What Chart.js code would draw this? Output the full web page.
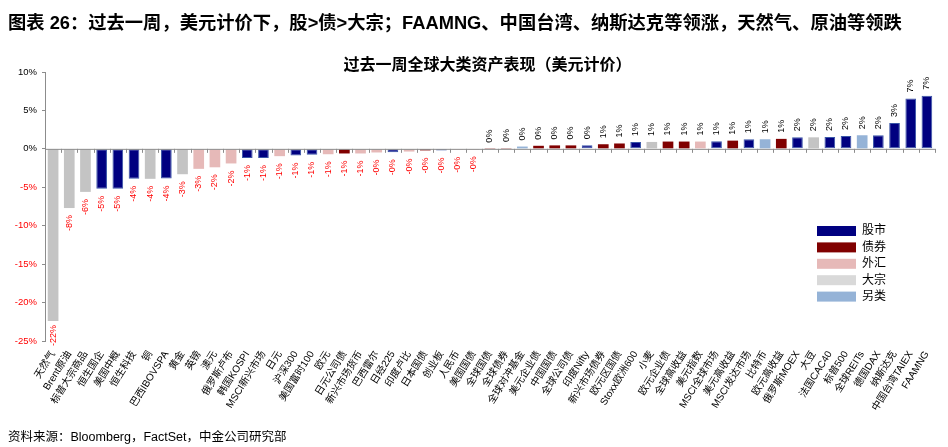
<!DOCTYPE html>
<html>
<head>
<meta charset="utf-8">
<script src="https://cdn.jsdelivr.net/npm/chart.js@4.4.1/dist/chart.umd.min.js"></script>
<style>
  html, body { margin: 0; padding: 0; background: #fff; }
  body { width: 948px; height: 447px; position: relative; overflow: hidden;
         font-family: "Liberation Sans", "Noto Sans CJK SC", sans-serif; }
  #wrap { position: absolute; left: 0; top: 0; width: 948px; height: 447px; }
  .head { position: absolute; left: 8px; top: 8px; font-size: 18.3px; font-weight: bold; color: #000; white-space: nowrap; }
  .sub { position: absolute; left: 0; width: 975px; top: 51px; text-align: center; font-size: 16px; font-weight: bold; color: #000; }
  .src { position: absolute; left: 8px; top: 426px; font-size: 12.5px; color: #000; white-space: nowrap; }
</style>
</head>
<body>
<div id="wrap"><canvas id="assetChart" width="948" height="447"></canvas></div>
<div class="head">图表 26：过去一周，美元计价下，股&gt;债&gt;大宗；FAAMNG、中国台湾、纳斯达克等领涨，天然气、原油等领跌</div>
<div class="sub">过去一周全球大类资产表现（美元计价）</div>
<div class="src">资料来源：Bloomberg，FactSet，中金公司研究部</div>
<script>
// 资产名称
const categories = [
  "天然气", "Brent原油", "标普大宗商品", "恒生国企", "美国中概", "恒生科技", "铜", "巴西IBOVSPA",
  "黄金", "英镑", "澳元", "俄罗斯卢布", "韩国KOSPI", "MSCI新兴市场", "日元", "沪深300",
  "美国富时100", "欧元", "日元公司债", "新兴市场货币", "巴西雷尔", "日经225", "印度卢比", "日本国债",
  "创业板", "人民币", "美国国债", "全球国债", "全球债券", "全球对冲基金", "美元企业债", "中国国债",
  "全球公司债", "印度Nifty", "新兴市场债券", "欧元区国债", "Stoxx欧洲600", "小麦", "欧元企业债", "全球高收益",
  "美元指数", "MSCI全球市场", "美元高收益", "MSCI发达市场", "比特币", "欧元高收益", "俄罗斯MOEX", "大豆",
  "法国CAC40", "标普500", "全球REITs", "德国DAX", "纳斯达克", "中国台湾TAIEX", "FAAMNG"
];
// 周涨跌幅 (%)
const values = [
  -22.4, -7.7, -5.6, -5.2, -5.2, -3.9, -3.9, -3.85,
  -3.3, -2.6, -2.4, -1.9, -1.2, -1.2, -0.95, -0.85,
  -0.78, -0.7, -0.6, -0.6, -0.47, -0.43, -0.35, -0.2,
  -0.2, -0.1, -0.05, 0.03, 0.1, 0.3, 0.4, 0.45,
  0.45, 0.48, 0.6, 0.7, 0.9, 0.9, 0.95, 0.95,
  0.95, 1.0, 1.07, 1.25, 1.25, 1.3, 1.5, 1.5,
  1.55, 1.68, 1.77, 1.77, 3.36, 6.55, 6.9
];
// 资产类别
const assetTypes = [
  "大宗", "大宗", "大宗", "股市", "股市", "股市", "大宗", "股市",
  "大宗", "外汇", "外汇", "外汇", "股市", "股市", "外汇", "股市",
  "股市", "外汇", "债券", "外汇", "外汇", "股市", "外汇", "债券",
  "股市", "外汇", "债券", "债券", "债券", "另类", "债券", "债券",
  "债券", "股市", "债券", "债券", "股市", "大宗", "债券", "债券",
  "外汇", "股市", "债券", "股市", "另类", "债券", "股市", "大宗",
  "股市", "股市", "另类", "股市", "股市", "股市", "股市"
];
const legendNames = ["股市", "债券", "外汇", "大宗", "另类"];
const yTicks = [10, 5, 0, -5, -10, -15, -20, -25];

const typeColors = {
  "股市": "#000080",
  "债券": "#800000",
  "外汇": "#E6B9B8",
  "大宗": "#C4C4C4",
  "另类": "#95B3D7"
};
const legendColors = { ...typeColors, "大宗": "#D9D9D9" };

const CJK = '"Liberation Sans", "Noto Sans CJK SC", sans-serif';

// 柱顶数值（旋转）
const valueLabels = {
  id: "valueLabels",
  afterDatasetsDraw(chart) {
    const ctx = chart.ctx;
    const meta = chart.getDatasetMeta(0);
    ctx.save();
    ctx.font = "9px " + CJK;
    ctx.textBaseline = "middle";
    meta.data.forEach((bar, i) => {
      const v = values[i];
      const txt = v.toFixed(0) + "%";
      ctx.save();
      ctx.translate(bar.x, bar.y);
      ctx.rotate(-Math.PI / 2);
      if (v >= 0) {
        ctx.fillStyle = "#000";
        ctx.textAlign = "left";
        ctx.fillText(txt, 6, 0);
      } else {
        ctx.fillStyle = "#FF0000";
        ctx.textAlign = "right";
        // 最底部的标签挤回绘图区
        const room = chart.chartArea.bottom - bar.y;
        const gap = Math.min(7, room - 16);
        ctx.fillText(txt, -gap, 0);
      }
      ctx.restore();
    });
    ctx.restore();
  }
};

// 零轴及刻度
const zeroAxis = {
  id: "zeroAxis",
  afterDatasetsDraw(chart) {
    const ctx = chart.ctx;
    const x = chart.scales.x;
    const y0 = chart.scales.y.getPixelForValue(0);
    ctx.save();
    ctx.strokeStyle = "#8C8C8C";
    ctx.lineWidth = 1;
    ctx.beginPath();
    ctx.moveTo(chart.chartArea.left, y0 + 0.5);
    ctx.lineTo(chart.chartArea.right, y0 + 0.5);
    const step = (x.right - x.left) / categories.length;
    for (let i = 1; i <= categories.length; i++) {
      const px = Math.round(x.left + i * step) + 0.5;
      ctx.moveTo(px, y0);
      ctx.lineTo(px, y0 + 4);
    }
    ctx.stroke();
    ctx.restore();
  }
};

// 图例
const boxLegend = {
  id: "boxLegend",
  afterDraw(chart) {
    const ctx = chart.ctx;
    ctx.save();
    ctx.font = "12px " + CJK;
    ctx.textBaseline = "middle";
    legendNames.forEach((name, i) => {
      const cy = 231 + i * 16.4;
      ctx.fillStyle = legendColors[name];
      ctx.fillRect(817, cy - 5, 39, 10);
      ctx.fillStyle = "#000";
      ctx.fillText(name, 862, cy);
    });
    ctx.restore();
  }
};

const ctx = document.getElementById("assetChart").getContext("2d");
new Chart(ctx, {
  type: "bar",
  data: {
    labels: categories,
    datasets: [{
      data: values,
      backgroundColor: assetTypes.map((t) => typeColors[t]),
      borderColor: assetTypes.map((t) => (t === "股市" ? "#3A56A8" : typeColors[t])),
      borderWidth: assetTypes.map((t) => (t === "股市" ? 1 : 0)),
      borderSkipped: false,
      barPercentage: 0.66,
      categoryPercentage: 1.0
    }]
  },
  options: {
    responsive: false,
    animation: false,
    devicePixelRatio: 1,
    layout: { padding: { left: 0, right: 13, top: 72, bottom: 20 } },
    plugins: {
      legend: { display: false },
      title: { display: false },
      tooltip: { enabled: false }
    },
    scales: {
      x: {
        grid: { display: false },
        border: { display: false },
        afterFit: (s) => { s.height = 86; },
        ticks: {
          autoSkip: false,
          minRotation: 58,
          maxRotation: 58,
          padding: 0,
          color: "#000",
          font: { size: 10, family: CJK }
        }
      },
      y: {
        min: -25,
        max: 10,
        afterFit: (s) => { s.width = 45; },
        afterBuildTicks: (s) => { s.ticks = yTicks.map((v) => ({ value: v })); },
        border: { display: true, color: "#8C8C8C" },
        grid: { drawOnChartArea: false, tickLength: 3, color: "#8C8C8C" },
        ticks: {
          padding: 5,
          font: { size: 9.5, family: CJK },
          color: (c) => (c.tick.value < 0 ? "#FF0000" : "#000"),
          callback: (v) => v + "%"
        }
      }
    }
  },
  plugins: [valueLabels, zeroAxis, boxLegend]
});
</script>
</body>
</html>
